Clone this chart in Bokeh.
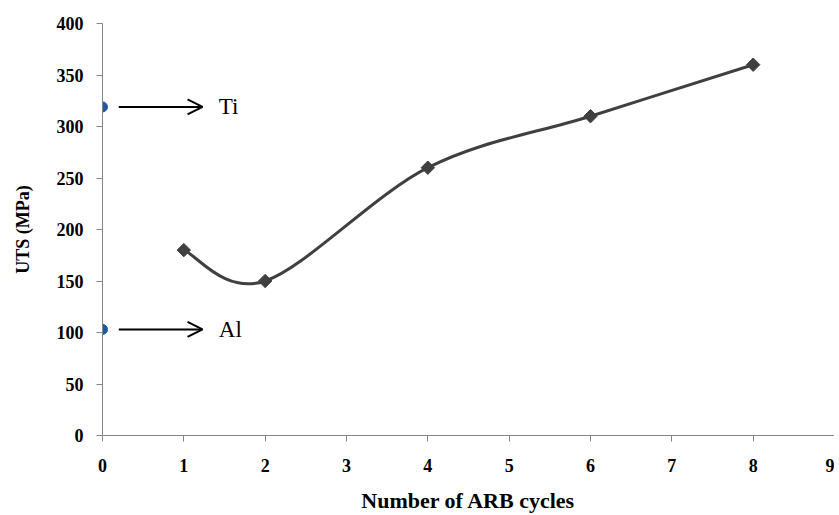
import math
from bokeh.plotting import figure
from bokeh.models import Range1d, Arrow, OpenHead, FixedTicker
from bokeh.core.properties import value
from bokeh.embed import file_html
from bokeh.resources import INLINE

cycles = [1, 2, 4, 6, 8]
uts = [180, 150, 260, 310, 360]
ref_names = ["Ti", "Al"]
ref_uts = [319, 103]
ref_x = [0, 0]
x_ticks = list(range(0, 10))
y_ticks = list(range(0, 401, 50))

p = figure(width=834, height=515, output_backend="svg", toolbar_location=None,
           x_range=Range1d(0, 9), y_range=Range1d(0, 400),
           min_border_left=102, min_border_top=23, min_border_bottom=79, min_border_right=0)
p.outline_line_color = None
p.xgrid.visible = False
p.ygrid.visible = False

# Excel-like smooth curve (Catmull-Rom -> cubic Bezier)
n = len(cycles)
x0, y0, x1, y1, cx0, cy0, cx1, cy1 = [], [], [], [], [], [], [], []
for i in range(n - 1):
    pm = (cycles[max(i - 1, 0)], uts[max(i - 1, 0)])
    pa = (cycles[i], uts[i])
    pb = (cycles[i + 1], uts[i + 1])
    pn = (cycles[min(i + 2, n - 1)], uts[min(i + 2, n - 1)])
    x0.append(pa[0]); y0.append(pa[1]); x1.append(pb[0]); y1.append(pb[1])
    cx0.append(pa[0] + (pb[0] - pm[0]) / 6); cy0.append(pa[1] + (pb[1] - pm[1]) / 6)
    cx1.append(pb[0] - (pn[0] - pa[0]) / 6); cy1.append(pb[1] - (pn[1] - pa[1]) / 6)
p.bezier(x0=x0, y0=y0, x1=x1, y1=y1, cx0=cx0, cy0=cy0, cx1=cx1, cy1=cy1,
         line_color="#404040", line_width=3)
p.scatter(cycles, uts, marker="square", angle=math.pi / 4, size=9.5,
          fill_color="#404040", line_color="#404040")

p.scatter(ref_x, ref_uts, marker="circle", size=10, fill_color="#1f57a5", line_color="#1f57a5")
for yv in ref_uts:
    p.add_layout(Arrow(end=OpenHead(size=15, line_width=2, line_color="black"),
                       x_start=0.2, y_start=yv, x_end=1.23, y_end=yv,
                       line_width=2, line_color="black"))
p.text([1.43, 1.43], ref_uts, text=ref_names, text_font=value("Liberation Serif"),
       text_font_size="23px", text_color="black", text_baseline="middle", text_align="left")

for ax in (p.xaxis[0], p.yaxis[0]):
    ax.axis_line_color = "#868686"
    ax.major_tick_line_color = "#868686"
    ax.major_tick_out = 6
    ax.major_tick_in = 0
    ax.minor_tick_out = 0
    ax.minor_tick_in = 0
    ax.major_label_text_font = "Liberation Serif"
    ax.major_label_text_font_style = "bold"
    ax.major_label_text_font_size = "18px"
    ax.major_label_text_color = "black"
    ax.axis_label_text_font = "Liberation Serif"
    ax.axis_label_text_font_style = "bold"
    ax.axis_label_text_color = "black"

p.xaxis.axis_label_text_font_size = "22px"
p.yaxis.axis_label_text_font_size = "18px"
p.xaxis.ticker = FixedTicker(ticks=x_ticks)
p.yaxis.ticker = FixedTicker(ticks=y_ticks)
p.xaxis.axis_label = "Number of ARB cycles"
p.yaxis.axis_label = "UTS (MPa)"
p.xaxis.major_label_standoff = 17
p.xaxis.axis_label_standoff = 13
p.yaxis.major_label_standoff = 13
p.yaxis.axis_label_standoff = 21

open("out.html", "w").write(file_html(p, INLINE))
